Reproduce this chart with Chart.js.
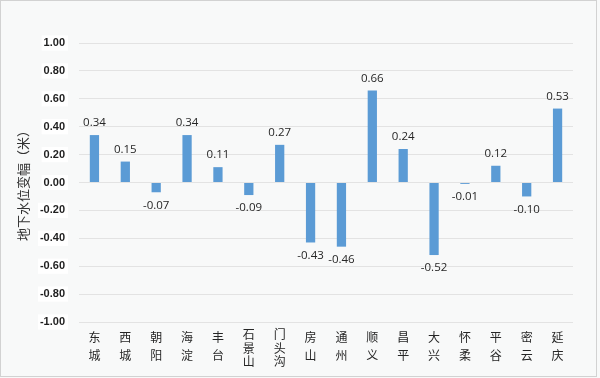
<!DOCTYPE html>
<html>
<head>
<meta charset="utf-8">
<script src="https://cdn.jsdelivr.net/npm/chart.js@4/dist/chart.umd.min.js"></script>
<style>
  html, body { margin: 0; padding: 0; background: #ffffff; }
  #wrap { position: relative; width: 600px; height: 378px; }
</style>
</head>
<body>
<div id="wrap"><canvas id="c" width="600" height="378"></canvas></div>
<script>
const categories = ['东城','西城','朝阳','海淀','丰台','石景山','门头沟','房山','通州','顺义','昌平','大兴','怀柔','平谷','密云','延庆'];
const values = [0.34, 0.15, -0.07, 0.34, 0.11, -0.09, 0.27, -0.43, -0.46, 0.66, 0.24, -0.52, -0.01, 0.12, -0.10, 0.53];
const yTitle = '地下水位变幅（米）';
const yMin = -1.0, yMax = 1.0, yStep = 0.2;

const labels = categories.map(n => n.split(''));

const bgPlugin = {
  id: 'bg',
  beforeDraw(chart) {
    const ctx = chart.ctx;
    ctx.save();
    ctx.fillStyle = '#f8f9f9';
    ctx.fillRect(0, 0, chart.width, chart.height);
    ctx.strokeStyle = '#d2d2d2';
    ctx.lineWidth = 1;
    ctx.strokeRect(0.5, 0.5, 596, 376);
    ctx.restore();
  }
};

const valueLabels = {
  id: 'valueLabels',
  afterDatasetsDraw(chart) {
    const ctx = chart.ctx;
    const meta = chart.getDatasetMeta(0);
    ctx.save();
    ctx.font = '11.5px "Open Sans"';
    ctx.fillStyle = '#262626';
    ctx.textAlign = 'center';
    ctx.textBaseline = 'middle';
    meta.data.forEach((el, i) => {
      const v = values[i];
      const y = v >= 0 ? el.y - 12 : el.y + 13;
      ctx.fillText(v.toFixed(2), el.x, y);
    });
    ctx.restore();
  }
};

new Chart(document.getElementById('c'), {
  type: 'bar',
  data: {
    labels: labels,
    datasets: [{
      data: values,
      backgroundColor: '#5b9bd5',
      borderWidth: 0,
      categoryPercentage: 1.0,
      barPercentage: 0.3
    }]
  },
  options: {
    responsive: false,
    animation: false,
    devicePixelRatio: 1,
    layout: { padding: { top: 43, right: 27, bottom: 0, left: 4 } },
    plugins: { legend: { display: false }, tooltip: { enabled: false } },
    scales: {
      x: {
        grid: { display: false, drawTicks: false },
        border: { display: false },
        ticks: {
          autoSkip: false,
          maxRotation: 0,
          padding: 6,
          color: '#262626',
          font: (ctx) => {
            const n = categories[ctx.index] ? categories[ctx.index].length : 2;
            return { family: '"Noto Sans CJK SC"', size: 12, lineHeight: n >= 3 ? '13.5px' : '18px' };
          }
        },
        afterFit(scale) { scale.height = 56; }
      },
      y: {
        min: yMin,
        max: yMax,
        grid: { color: '#e3e3e3', lineWidth: 1, drawTicks: false },
        border: { display: false },
        ticks: {
          stepSize: yStep,
          padding: 14,
          color: '#1f1f1f',
          font: { family: '"Liberation Sans"', size: 11, weight: 'bold' },
          showLabelBackdrop: true,
          backdropColor: '#ffffff',
          backdropPadding: { top: 1, bottom: 1, left: 2, right: 3 },
          callback: (v) => Number(v).toFixed(2)
        },
        title: {
          display: true,
          text: yTitle,
          color: '#333333',
          font: { family: '"Noto Sans CJK SC"', size: 13 },
          padding: { top: 11, bottom: 0 }
        },
        afterFit(scale) { scale.width = 75; }
      }
    }
  },
  plugins: [bgPlugin, valueLabels]
});
</script>
</body>
</html>
